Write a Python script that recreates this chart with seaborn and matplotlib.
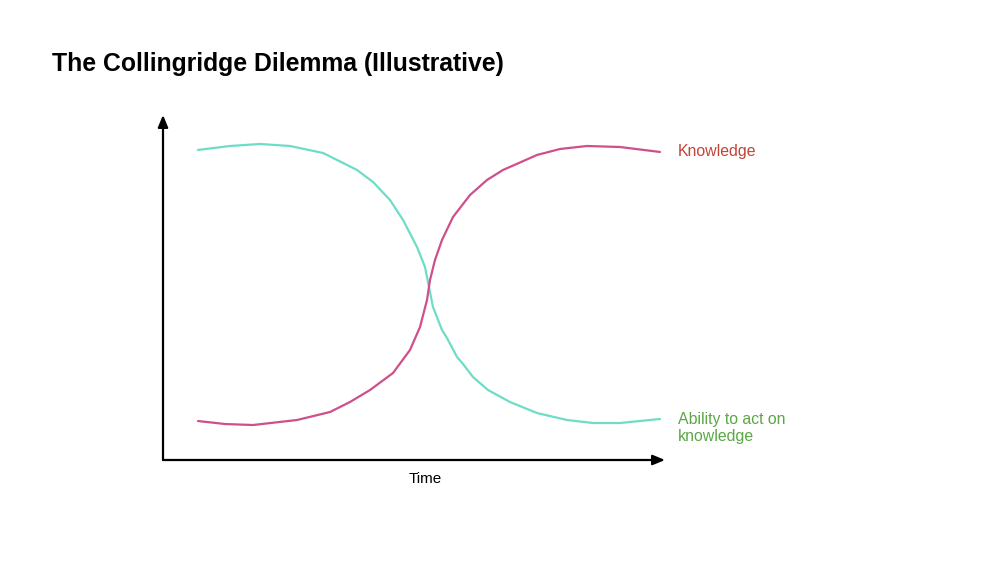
import matplotlib
matplotlib.use("Agg")
import matplotlib.pyplot as plt
import seaborn as sns
import pandas as pd

# Illustrative values (time 0-100, level 0-100)
time_ability = [6.97, 13.35, 19.32, 25.30, 31.87, 38.65, 41.83, 45.22, 47.81, 50.60, 52.19, 52.99, 53.78, 55.58,
                56.57, 58.57, 59.76, 61.75, 64.74, 69.12, 74.50, 80.48, 85.66, 91.04, 99.00]
ability = [89.86, 91.01, 91.59, 91.01, 88.99, 84.06, 80.58, 75.36, 69.57, 61.74, 55.94, 50.14, 44.35, 37.68,
           35.36, 29.86, 27.83, 24.06, 20.29, 16.81, 13.62, 11.59, 10.72, 10.72, 11.88]

time_knowledge = [6.97, 12.35, 17.93, 26.69, 33.27, 37.25, 41.24, 45.82, 49.20, 51.20, 52.59, 53.19, 54.18, 55.58,
                  57.77, 61.16, 64.54, 67.73, 74.50, 79.08, 84.46, 91.04, 99.00]
knowledge = [11.30, 10.43, 10.14, 11.59, 13.91, 16.81, 20.29, 25.22, 31.88, 38.55, 46.38, 52.17, 57.97, 63.77,
             70.43, 76.81, 81.16, 84.06, 88.41, 90.14, 91.01, 90.72, 89.28]

title = "The Collingridge Dilemma (Illustrative)"
x_label = "Time"
label_knowledge = "Knowledge"
label_ability = "Ability to act on\nknowledge"

sns.set_theme(style="white")
plt.rcParams["font.family"] = ["Liberation Sans", "DejaVu Sans"]

fig = plt.figure(figsize=(10, 5.62), dpi=100)
ax = fig.add_axes([0.163, 0.1815, 0.502, 0.6139])

df_a = pd.DataFrame({"t": time_ability, "v": ability})
df_k = pd.DataFrame({"t": time_knowledge, "v": knowledge})
sns.lineplot(data=df_a, x="t", y="v", ax=ax, color="#6fdcc7", linewidth=1.6, sort=False,
             solid_joinstyle="round", solid_capstyle="round")
sns.lineplot(data=df_k, x="t", y="v", ax=ax, color="#cf4f8c", linewidth=1.6, sort=False,
             solid_joinstyle="round", solid_capstyle="round")

ax.set_xlim(0, 100)
ax.set_ylim(0, 100)
ax.set_xticks([])
ax.set_yticks([])
ax.set_xlabel("")
ax.set_ylabel("")
for s in ax.spines.values():
    s.set_visible(False)

arrow = dict(arrowstyle="-|>,head_length=0.6,head_width=0.25", color="black", lw=1.6, shrinkA=0, shrinkB=0)
ax.annotate("", xy=(1.0, 0), xytext=(0, 0), xycoords="axes fraction", textcoords="axes fraction", arrowprops=arrow, annotation_clip=False)
ax.annotate("", xy=(0, 1.0), xytext=(0, 0), xycoords="axes fraction", textcoords="axes fraction", arrowprops=arrow, annotation_clip=False)

ax.text(0.522, -0.055, x_label, transform=ax.transAxes, ha="center", va="center", fontsize=11, color="black")
ax.text(time_knowledge[-1] + 3.5, knowledge[-1], label_knowledge, ha="left", va="center", fontsize=11.4, color="#c0453a")
ax.text(time_ability[-1] + 3.5, ability[-1] - 2.6, label_ability, ha="left", va="center", fontsize=11.4,
        color="#5aa845", linespacing=1.2)

fig.text(0.052, 0.887, title, ha="left", va="center", fontsize=17.8, fontweight="bold", color="black")

fig.savefig("out.png", dpi=100, facecolor="white")
